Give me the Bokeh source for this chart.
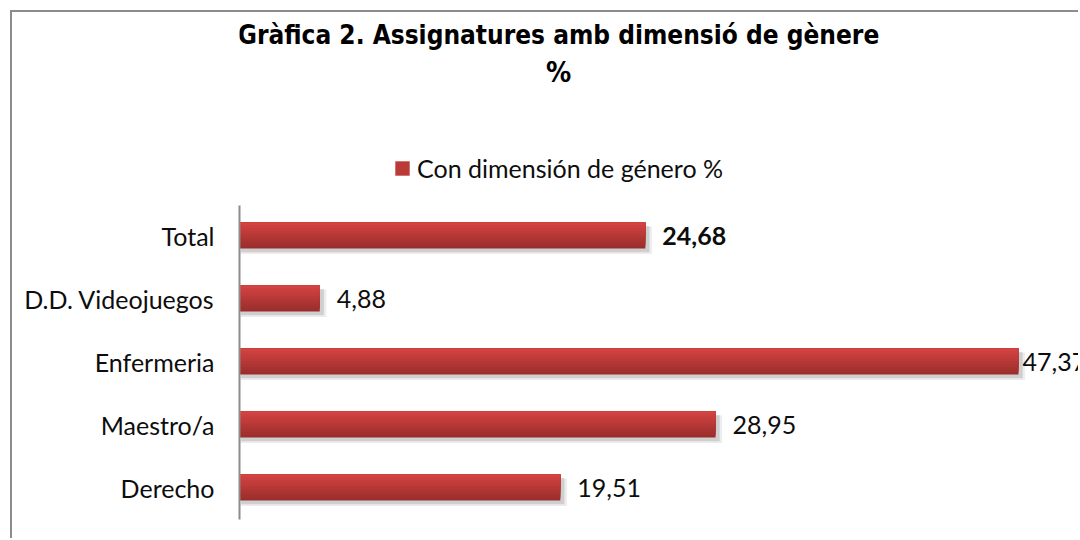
from bokeh.plotting import figure
from bokeh.models import ColumnDataSource, Range1d, Label, Legend, LegendItem, FixedTicker
from bokeh.core.properties import value
from bokeh.embed import file_html
from bokeh.resources import INLINE

categories = ["Total", "D.D. Videojuegos", "Enfermeria", "Maestro/a", "Derecho"]
values = [24.68, 4.88, 47.37, 28.95, 19.51]
value_labels = ["24,68", "4,88", "47,37", "28,95", "19,51"]
series_name = "Con dimensión de género %"
title_lines = ["Gràfica 2. Assignatures amb dimensió de gènere", "%"]

BODY_FONT = "Lato"
TITLE_FONT = "DejaVu Sans Condensed"

# category index: Total on top
pos = list(range(len(categories) - 1, -1, -1))

W, H = 1068, 528
LEFT = 227
X_END = 51.14
px_per_unit = (W - LEFT) / X_END

p = figure(width=W, height=H, output_backend="svg", toolbar_location=None,
           y_range=Range1d(-0.841, 7.54), x_range=Range1d(0, X_END),
           min_border_left=LEFT, min_border_top=0, min_border_bottom=0, min_border_right=0)
p.styles = {"margin-left": "10px", "margin-top": "10px",
            "border-left": "2px solid #8c8c8c", "border-top": "2px solid #8c8c8c"}
p.outline_line_color = None
p.xgrid.visible = False
p.ygrid.visible = False
p.xaxis.visible = False
p.yaxis.ticker = FixedTicker(ticks=pos)
p.yaxis.major_label_overrides = {i: c for i, c in zip(pos, categories)}
p.yaxis.bounds = (-0.5, len(categories) - 0.53)
p.yaxis.axis_line_color = "#8c8c8c"
p.yaxis.axis_line_width = 2
p.yaxis.major_tick_line_color = None
p.yaxis.minor_tick_line_color = None
p.yaxis.major_label_text_font = BODY_FONT
p.yaxis.major_label_text_font_size = "25px"
p.yaxis.major_label_text_color = "#0d0d0d"
p.yaxis.major_label_standoff = 19

# labels sit 17px right of the bar, but are pulled back if they would overflow (as in Excel)
label_x = [min(v + 17 / px_per_unit, X_END - 58 / px_per_unit) for v in values]

src = ColumnDataSource(dict(
    pos=pos,
    val=values,
    lab=value_labels,
    lab_x=label_x,
    shadow_y=[y - 0.06 for y in pos],
    shadow2_y=[y - 0.075 for y in pos],
    shadow_r=[v + 0.25 for v in values],
    shadow2_r=[v + 0.4 for v in values],
    style=["bold" if c == "Total" else "normal" for c in categories],
))

bar_h = 0.415
# soft shadow
p.hbar(y="shadow2_y", left=0.05, right="shadow2_r", height=bar_h + 0.02,
       source=src, fill_color="#ededed", line_color=None)
p.hbar(y="shadow_y", left=0.1, right="shadow_r", height=bar_h,
       source=src, fill_color="#cfcfcf", line_color=None)

# gradient bars: layered, top-aligned, progressively shorter and lighter
n = 10
top_c = (0xD2, 0x43, 0x41)
bot_c = (0x9B, 0x2E, 0x2C)
renderers = []
for i in range(n):
    t = 1 - i / (n - 1)
    col = "#%02x%02x%02x" % tuple(int(round(a + (b - a) * t)) for a, b in zip(top_c, bot_c))
    h = bar_h * (n - i) / n
    off = bar_h / 2 - h / 2
    src.data["y%d" % i] = [y + off for y in pos]
    r = p.hbar(y="y%d" % i, left=0, right="val", height=h,
               source=src, fill_color=col, line_color=None)
    renderers.append(r)

p.text(x="lab_x", y="pos", text="lab", source=src, text_baseline="middle",
       text_font=value(BODY_FONT), text_font_size="25px", text_color="#0d0d0d",
       text_font_style="style")

legend = Legend(items=[LegendItem(label=series_name, renderers=[renderers[5]])],
                location=(154, 357), orientation="horizontal",
                glyph_width=18, glyph_height=18, label_text_font=BODY_FONT,
                label_text_font_size="25px", label_text_color="#0d0d0d",
                border_line_color=None, background_fill_alpha=0, padding=0, margin=0,
                label_standoff=6)
p.add_layout(legend, "center")

p.add_layout(Label(x=319, y=H - 22, x_units="screen", y_units="screen", text=title_lines[0],
                   text_align="center", text_baseline="alphabetic", text_font=TITLE_FONT,
                   text_font_style="bold", text_font_size="26px", text_color="#000000"))
p.add_layout(Label(x=319, y=H - 60, x_units="screen", y_units="screen", text=title_lines[1],
                   text_align="center", text_baseline="alphabetic", text_font=TITLE_FONT,
                   text_font_style="bold", text_font_size="28px", text_color="#000000"))

open("out.html", "w").write(file_html(p, INLINE))
